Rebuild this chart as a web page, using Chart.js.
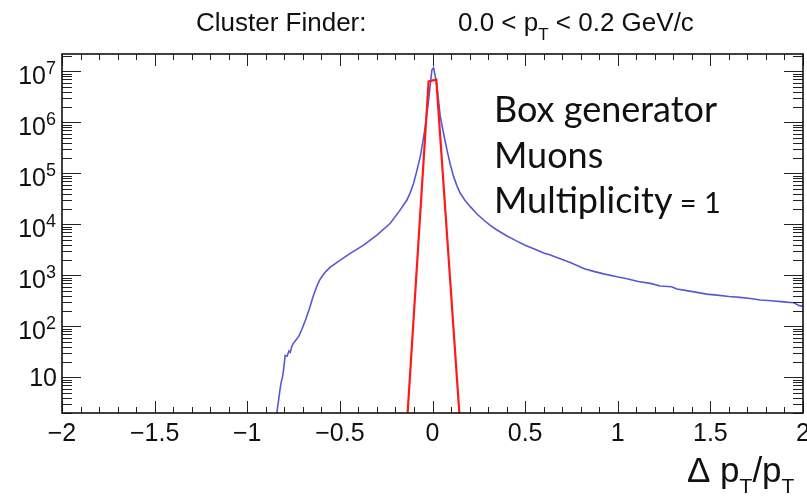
<!DOCTYPE html>
<html>
<head>
<meta charset="utf-8">
<script src="https://cdn.jsdelivr.net/npm/chart.js@4.4.1/dist/chart.umd.min.js"></script>
<style>
  html, body { margin: 0; padding: 0; background: #fff; }
  #wrap { width: 807px; height: 503px; position: relative; }
</style>
</head>
<body>
<div id="wrap"><canvas id="chart" width="807" height="503"></canvas></div>
<script>
// ── DATA ──
// blue: reconstructed delta pT / pT distribution
const BLUE_X = [-0.845, -0.839, -0.831, -0.824, -0.818, -0.810, -0.804, -0.798, -0.795, -0.785,
  -0.775, -0.768, -0.758, -0.750, -0.735, -0.720, -0.704, -0.685, -0.665, -0.645,
  -0.624, -0.610, -0.596, -0.575, -0.552, -0.498, -0.444, -0.372, -0.300, -0.228,
  -0.180, -0.138, -0.120, -0.102, -0.084, -0.066, -0.052, -0.039, -0.030, -0.021,
  -0.012, -0.003, 0.006, 0.015, 0.024, 0.033, 0.042, 0.060, 0.078, 0.096,
  0.114, 0.132, 0.150, 0.177, 0.204, 0.240, 0.276, 0.312, 0.348, 0.40,
  0.45, 0.50, 0.55, 0.60, 0.636, 0.70, 0.75, 0.816, 0.87, 0.93,
  0.996, 1.05, 1.11, 1.176, 1.23, 1.29, 1.32, 1.355, 1.42, 1.48,
  1.536, 1.60, 1.66, 1.716, 1.77, 1.83, 1.895, 1.95, 1.98, 2.0];
const BLUE_Y = [0.5, 2.2, 3.5, 5.5, 7.7, 10, 13.8, 22, 27, 26,
  33, 31, 42, 47, 55, 66, 90, 135, 220, 380,
  620, 800, 960, 1200, 1450, 1995, 2704, 3936, 6194, 10520,
  18000, 30130, 42000, 64100, 115000, 213800, 420000, 831000, 1.5e6, 2.78e6,
  5.5e6, 1.08e7, 1.18e7, 8.0e6, 5.07e6, 2.6e6, 1.31e6, 6.0e5, 2.9e5, 1.5e5,
  86500, 57000, 40800, 29000, 22300, 16000, 12200, 9600, 7760, 6000,
  4800, 3900, 3300, 2750, 2506, 2050, 1750, 1371, 1200, 1060,
  938, 860, 760, 697, 620, 600, 540, 514, 470, 430,
  410, 385, 370, 353, 330, 318, 303, 290, 255, 249];

// red: fit function
const FIT_X = [-0.15, -0.021, 0.0205, 0.16];
const FIT_Y = [0.25, 6.4e6, 6.9e6, 0.32];

// axes
const X_MIN = -2, X_MAX = 2;
const Y_MIN = 2, Y_MAX = 2.2e7;
const X_TICKS = [-2, -1.5, -1, -0.5, 0, 0.5, 1, 1.5, 2];
const X_TICK_LABELS = ['\u22122', '\u22121.5', '\u22121', '\u22120.5', '0', '0.5', '1', '1.5', '2'];
const Y_TICKS = [10, 1e2, 1e3, 1e4, 1e5, 1e6, 1e7];
const Y_TICK_EXP = ['', '2', '3', '4', '5', '6', '7'];

// texts
const TITLE_LEFT = 'Cluster Finder:';
const TITLE_RIGHT = ['0.0 < p', 'T', ' < 0.2 GeV/c'];
const X_TITLE = ['\u0394 p', 'T', '/p', 'T'];
const NOTE_LINES = ['Box generator', 'Muons', 'Multiplicity'];
const NOTE_TAIL = ' = 1';

const ROOT_FONT = "'Liberation Sans', Arial, Helvetica, sans-serif";
const NOTE_FONT = "Lato, 'Open Sans', sans-serif";

const toPts = (xs, ys) => xs.map((x, i) => ({ x, y: ys[i] }));

// ── TEXT HELPER: draws [normal, sub, normal, sub...] runs ──
function drawRuns(ctx, runs, x, y, size, subSize, subDrop) {
  runs.forEach((t, i) => {
    const sub = i % 2 === 1;
    ctx.font = `${sub ? subSize : size}px ${ROOT_FONT}`;
    ctx.fillText(t, x, sub ? y + subDrop : y);
    x += ctx.measureText(t).width;
  });
}

// ── ROOT STYLE FRAME / TICKS / LABELS ──
const rootAxes = {
  id: 'rootAxes',
  afterDatasetsDraw(chart) {
    const { ctx, chartArea: a, scales: { x, y } } = chart;
    ctx.save();
    ctx.strokeStyle = '#222';
    ctx.lineWidth = 1;

    // x ticks, top and bottom
    for (let k = X_MIN * 10; k <= X_MAX * 10; k++) {
      const px = Math.round(x.getPixelForValue(k / 10)) + 0.5;
      const len = k % 5 === 0 ? 12 : 6;
      ctx.beginPath();
      ctx.moveTo(px, a.bottom); ctx.lineTo(px, a.bottom - len);
      ctx.moveTo(px, a.top); ctx.lineTo(px, a.top + len);
      ctx.stroke();
    }

    // y ticks, left and right
    for (let e = 0; e <= 7; e++) {
      for (let m = 1; m <= 9; m++) {
        const v = m * Math.pow(10, e);
        if (v < Y_MIN || v > Y_MAX) continue;
        const py = Math.round(y.getPixelForValue(v)) + 0.5;
        const len = m === 1 ? 19 : 10;
        ctx.beginPath();
        ctx.moveTo(a.left, py); ctx.lineTo(a.left + len, py);
        ctx.moveTo(a.right, py); ctx.lineTo(a.right - len, py);
        ctx.stroke();
      }
    }

    // frame
    ctx.strokeStyle = '#111';
    ctx.lineWidth = 1.6;
    ctx.strokeRect(a.left, a.top, a.right - a.left, a.bottom - a.top);

    // y labels 10^n
    ctx.fillStyle = '#111';
    ctx.textAlign = 'right';
    ctx.textBaseline = 'alphabetic';
    const rightEdge = 56;
    Y_TICKS.forEach((v, i) => {
      const py = y.getPixelForValue(v);
      const ex = Y_TICK_EXP[i];
      if (!ex) {
        ctx.font = `25px ${ROOT_FONT}`;
        ctx.fillText('10', rightEdge + 1, py + 9);
        return;
      }
      ctx.font = `18px ${ROOT_FONT}`;
      const ew = ctx.measureText(ex).width;
      ctx.fillText(ex, rightEdge, py + 3);
      ctx.font = `25px ${ROOT_FONT}`;
      ctx.fillText('10', rightEdge - ew, py + 13);
    });

    // title
    ctx.textAlign = 'left';
    ctx.font = `26px ${ROOT_FONT}`;
    ctx.fillText(TITLE_LEFT, 196, 31);
    drawRuns(ctx, TITLE_RIGHT, 458, 31, 26, 17, 9);

    // x axis title
    drawRuns(ctx, X_TITLE, 687, 482, 35, 21, 11);

    // annotation
    ctx.font = `36px ${NOTE_FONT}`;
    NOTE_LINES.forEach((t, i) => ctx.fillText(t, 494, 122 + i * 45.5));
    const w = ctx.measureText(NOTE_LINES[2]).width;
    ctx.font = `29px ${NOTE_FONT}`;
    ctx.fillText(NOTE_TAIL, 494 + w, 213);
    ctx.restore();
  }
};

new Chart(document.getElementById('chart'), {
  type: 'line',
  data: {
    datasets: [
      { label: 'fit', data: toPts(FIT_X, FIT_Y), borderColor: '#ff1a1a', borderWidth: 2.2,
        pointRadius: 0, tension: 0, clip: 0, order: 1 },
      { label: 'clusters', data: toPts(BLUE_X, BLUE_Y), borderColor: 'rgba(70,70,205,0.9)', borderWidth: 1.6,
        pointRadius: 0, tension: 0, clip: 0, order: 2 },
    ]
  },
  options: {
    responsive: false, animation: false, parsing: true,
    layout: { padding: { top: 54, right: 4, left: 0, bottom: 0 } },
    plugins: { legend: { display: false }, tooltip: { enabled: false } },
    scales: {
      x: {
        type: 'linear', min: X_MIN, max: X_MAX,
        grid: { display: false, drawTicks: false }, border: { display: false },
        ticks: {
          stepSize: 0.5, padding: 6, color: '#111', maxRotation: 0, autoSkip: false,
          font: { family: ROOT_FONT, size: 25 },
          callback: v => { const i = X_TICKS.indexOf(v); return i < 0 ? '' : X_TICK_LABELS[i]; }
        },
        afterFit: s => { s.height = 90; s.paddingLeft = 0; s.paddingRight = 0; }
      },
      y: {
        type: 'logarithmic', min: Y_MIN, max: Y_MAX,
        grid: { display: false, drawTicks: false }, border: { display: false },
        ticks: { display: false },
        afterFit: s => { s.width = 62; s.paddingTop = 0; s.paddingBottom = 0; }
      }
    }
  },
  plugins: [rootAxes]
});
</script>
</body>
</html>
